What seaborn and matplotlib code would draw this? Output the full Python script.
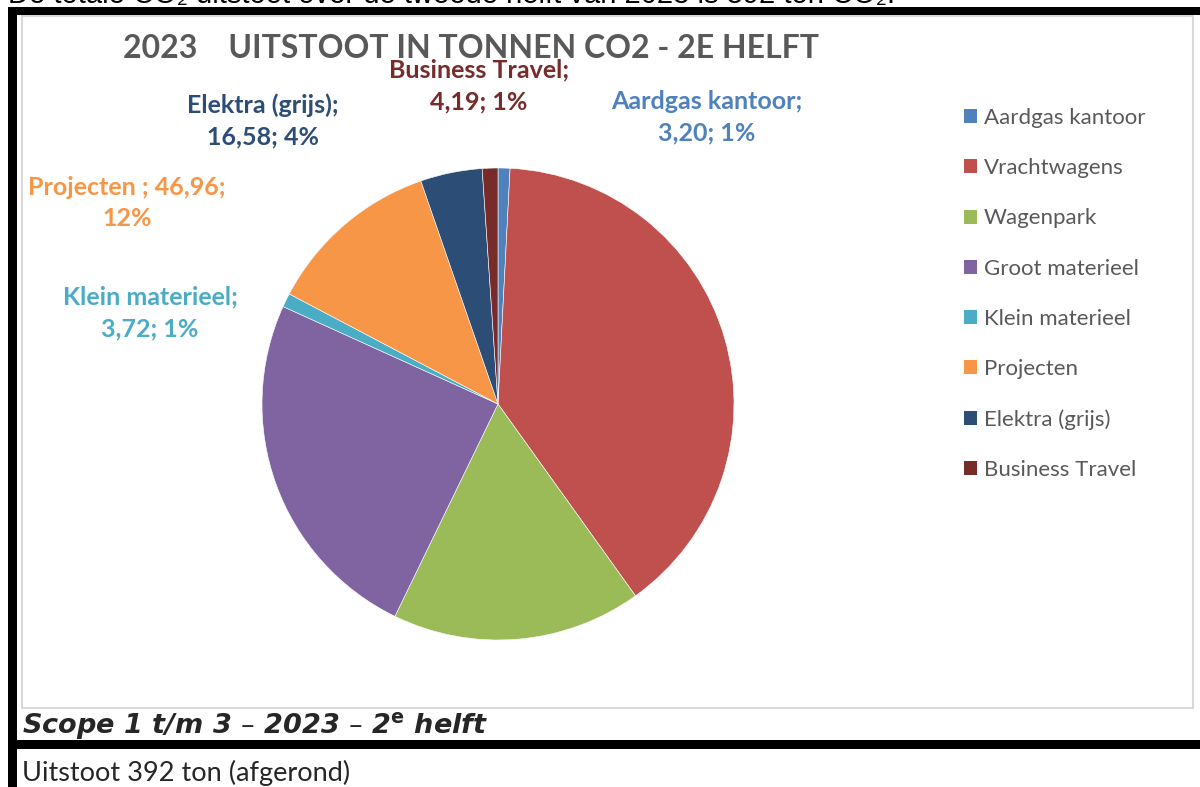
import matplotlib
matplotlib.use("Agg")
import matplotlib.pyplot as plt
from matplotlib.patches import Rectangle, Patch
import seaborn as sns

# data (ton CO2, 2e helft 2023)
categories = ["Aardgas kantoor", "Vrachtwagens", "Wagenpark", "Groot materieel",
              "Klein materieel", "Projecten", "Elektra (grijs)", "Business Travel"]
values = [3.20, 154.0, 67.0, 96.35, 3.72, 46.96, 16.58, 4.19]
colors = ["#4F81BD", "#C0504D", "#9BBB59", "#8064A2",
          "#4BACC6", "#F79646", "#2C4D75", "#772C2A"]

title = "2023    UITSTOOT IN TONNEN CO2 - 2E HELFT"
caption = "Scope 1 t/m 3 \u2013 2023 \u2013 2$^{\\mathbf{e}}$ helft"
footnote = "Uitstoot 392 ton (afgerond)"
intro = "De totale CO\u2082 uitstoot over de tweede helft van 2023 is 392 ton CO\u2082."

# which slices get an Excel style data label, and where (pixel centre)
label_pos = {0: (707, 117), 4: (150, 313), 5: (127, 203), 6: (263, 121), 7: (479, 86)}
label_text_name = {5: "Projecten "}
label_break_after_value = {5}

W, H = 1200, 787
GREY = "#595959"

sns.set_style("white")
plt.rcParams["font.family"] = ["Lato", "DejaVu Sans"]


def fx(x):
    return x / W


def fy(y):
    return 1 - y / H


def box(fig, x0, y0, x1, y1, **kw):
    fig.add_artist(Rectangle((fx(x0), fy(y1)), (x1 - x0) / W, (y1 - y0) / H,
                             transform=fig.transFigure, **kw))


fig = plt.figure(figsize=(12, 7.87), dpi=100)
fig.patch.set_facecolor("white")

# document bits around the chart
fig.text(fx(8), fy(3), intro, fontsize=21, family="Liberation Sans",
         ha="left", va="baseline", color="black")
box(fig, 22, 16, 1193, 708, facecolor="none", edgecolor="#D9D9D9", linewidth=1.5)
box(fig, 8, 7, 1200, 15, facecolor="black", edgecolor="none")
box(fig, 8, 7, 17, 787, facecolor="black", edgecolor="none")
box(fig, 8, 740, 1200, 749, facecolor="black", edgecolor="none")
fig.text(fx(22), fy(734), caption, fontsize=19.5, family="DejaVu Sans",
         fontweight="bold", style="italic", ha="left", va="baseline")
fig.text(fx(22), fy(781), footnote, fontsize=19.5, ha="left", va="baseline")

# pie
cx, cy, r = 498, 404, 236
ax = fig.add_axes([fx(cx - r), fy(cy + r), 2 * r / W, 2 * r / H])
wedges, _ = ax.pie(values, colors=colors, startangle=90, counterclock=False,
                   wedgeprops=dict(edgecolor="white", linewidth=0.4))
ax.set_xlim(-1, 1)
ax.set_ylim(-1, 1)
ax.axis("off")

total = sum(values)
for i, (px, py) in label_pos.items():
    name = label_text_name.get(i, categories[i])
    val = f"{values[i]:.2f}".replace(".", ",")
    pct = f"{round(values[i] / total * 100)}%"
    if i in label_break_after_value:
        txt = f"{name}; {val};\n{pct}"
    else:
        txt = f"{name};\n{val}; {pct}"
    fig.text(fx(px), fy(py), txt, ha="center", va="center", color=colors[i],
             fontsize=18, fontweight="bold", linespacing=1.45)

fig.text(fx(471), fy(48), title, ha="center", va="center", color=GREY,
         fontsize=23, fontweight="bold")

handles = [Patch(facecolor=c, edgecolor="none") for c in colors]
fig.legend(handles, categories, loc="upper left", bbox_to_anchor=(fx(964), fy(108)),
           frameon=False, fontsize=16, labelcolor=GREY, handlelength=0.6,
           handleheight=0.6, handletextpad=0.3, labelspacing=1.36,
           borderaxespad=0, borderpad=0)

fig.savefig("out.png", dpi=100)
